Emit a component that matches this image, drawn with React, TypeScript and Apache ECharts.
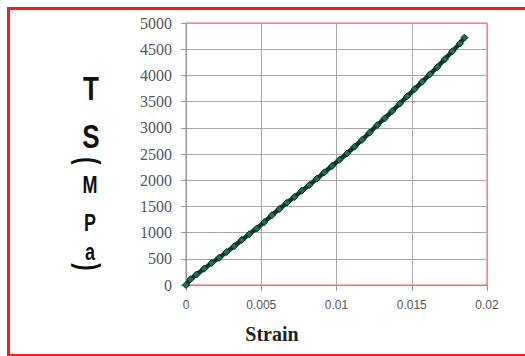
import React, { useEffect, useRef } from "react";
import * as echarts from "echarts";

const strain = [0, 0.0003, 0.0007, 0.0012, 0.0017, 0.0022, 0.0027, 0.0032, 0.0037, 0.0042, 0.0047, 0.0052, 0.0057, 0.0062, 0.0067, 0.0072, 0.0077, 0.0082, 0.0087, 0.0092, 0.0097, 0.0102, 0.0107, 0.0112, 0.0117, 0.0122, 0.0127, 0.0132, 0.0137, 0.0142, 0.0147, 0.0152, 0.0157, 0.0162, 0.0167, 0.0172, 0.0177, 0.0182, 0.0185];
const stress = [0, 110, 200, 310, 420, 520, 630, 740, 860, 970, 1080, 1200, 1330, 1450, 1570, 1680, 1800, 1910, 2030, 2150, 2270, 2390, 2510, 2640, 2770, 2910, 3050, 3180, 3320, 3460, 3600, 3740, 3880, 4020, 4160, 4310, 4460, 4610, 4720];

const xTitle = "Strain";
const yTitleChars = ["T", "S", "(", "M", "P", "a", ")"];

export default function App() {
  const ref = useRef<HTMLDivElement>(null);
  useEffect(() => {
    if (!ref.current) return;
    const chart = echarts.init(ref.current, null, { renderer: "svg" });
    const data = strain.map((x, i) => [x, stress[i]]);
    const big = { fontFamily: "Liberation Sans", fontWeight: "bold", fill: "#111" };
    const yTitle: any[] = [
      { type: "text", x: 91, y: 88, scaleY: 1.25, style: { ...big, text: yTitleChars[0], fontSize: 26, align: "center", verticalAlign: "middle" } },
      { type: "text", x: 91, y: 136, scaleY: 1.25, style: { ...big, text: yTitleChars[1], fontSize: 26, align: "center", verticalAlign: "middle" } },
      { type: "text", x: 88, y: 161, rotation: -Math.PI / 2, scaleY: 1.4, style: { ...big, text: yTitleChars[2], fontSize: 22, align: "center", verticalAlign: "middle" } },
      { type: "text", x: 90, y: 185, scaleY: 1.3, style: { ...big, text: yTitleChars[3], fontSize: 18, align: "center", verticalAlign: "middle" } },
      { type: "text", x: 90, y: 223, scaleY: 1.3, style: { ...big, text: yTitleChars[4], fontSize: 18, align: "center", verticalAlign: "middle" } },
      { type: "text", x: 90, y: 252, scaleY: 1.3, style: { ...big, text: yTitleChars[5], fontSize: 18, align: "center", verticalAlign: "middle" } },
      { type: "text", x: 88, y: 267, rotation: -Math.PI / 2, scaleY: 1.4, style: { ...big, text: yTitleChars[6], fontSize: 22, align: "center", verticalAlign: "middle" } },
    ];
    chart.setOption({
      animation: false,
      backgroundColor: "#fff",
      grid: {
        left: 186,
        top: 23,
        right: 38,
        bottom: 71,
        containLabel: false,
        outerBoundsMode: "none",
        show: true,
        borderColor: "#ff5a5a",
        borderWidth: 1,
      },
      xAxis: {
        type: "value",
        min: 0,
        max: 0.02,
        interval: 0.005,
        axisLine: { show: true, lineStyle: { color: "#999", width: 1 } },
        axisTick: { show: true, length: 6, lineStyle: { color: "#999" } },
        splitLine: { show: true, lineStyle: { color: "#a6a6a6", width: 1 } },
        axisLabel: { margin: 14, fontSize: 12, color: "#555", fontFamily: "Liberation Sans", formatter: (v: number) => String(v) },
      },
      yAxis: {
        type: "value",
        min: 0,
        max: 5000,
        interval: 500,
        axisLine: { show: true, lineStyle: { color: "#999", width: 1 } },
        axisTick: { show: true, length: 5, lineStyle: { color: "#999" } },
        splitLine: { show: true, lineStyle: { color: "#a6a6a6", width: 1 } },
        axisLabel: { margin: 14, fontSize: 16, color: "#555", fontFamily: "Liberation Serif", formatter: (v: number) => String(v) },
      },
      series: [
        {
          type: "line",
          data,
          lineStyle: { color: "#0b3a2d", width: 4.5 },
          symbol: "diamond",
          symbolSize: 7,
          itemStyle: { color: "#1b7058", borderColor: "#0a2a20", borderWidth: 1 },
        },
      ],
      graphic: [
        {
          type: "rect",
          shape: { x: 8.5, y: 8.5, width: 530, height: 347 },
          style: { fill: "none", stroke: "#ff1a1a", lineWidth: 3 },
          silent: true,
        },
        {
          type: "text",
          x: 272,
          y: 334,
          style: { text: xTitle, fontFamily: "Liberation Serif", fontWeight: "bold", fontSize: 20, fill: "#222", align: "center", verticalAlign: "middle" },
        },
        ...yTitle,
      ],
    });
    return () => chart.dispose();
  }, []);
  return <div ref={ref} style={{ position: "fixed", left: 0, top: 0, width: 525, height: 356, background: "#fff" }} />;
}
